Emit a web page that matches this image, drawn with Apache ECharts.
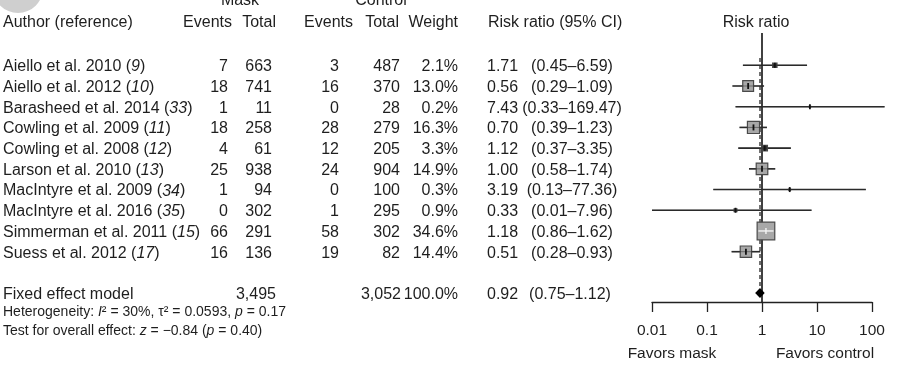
<!DOCTYPE html>
<html><head><meta charset="utf-8">
<script src="https://cdn.jsdelivr.net/npm/echarts@6/dist/echarts.min.js"></script>
<style>html,body{margin:0;padding:0;background:#fff}#c{width:911px;height:383px}</style>
</head><body><div id="c"></div>
<script>
// ---- data ----
const studies = ['Aiello et al. 2010', 'Aiello et al. 2012', 'Barasheed et al. 2014', 'Cowling et al. 2009', 'Cowling et al. 2008', 'Larson et al. 2010', 'MacIntyre et al. 2009', 'MacIntyre et al. 2016', 'Simmerman et al. 2011', 'Suess et al. 2012'];
const refs = ['9', '10', '33', '11', '12', '13', '34', '35', '15', '17'];
const maskEvents = [7, 18, 1, 18, 4, 25, 1, 0, 66, 16];
const maskTotal = [663, 741, 11, 258, 61, 938, 94, 302, 291, 136];
const ctrlEvents = [3, 16, 0, 28, 12, 24, 0, 1, 58, 19];
const ctrlTotal = [487, 370, 28, 279, 205, 904, 100, 295, 302, 82];
const weights = [2.1, 13.0, 0.2, 16.3, 3.3, 14.9, 0.3, 0.9, 34.6, 14.4];
const rr = [1.71, 0.56, 7.43, 0.70, 1.12, 1.00, 3.19, 0.33, 1.18, 0.51];
const lower = [0.45, 0.29, 0.33, 0.39, 0.37, 0.58, 0.13, 0.01, 0.86, 0.28];
const upper = [6.59, 1.09, 169.47, 1.23, 3.35, 1.74, 77.36, 7.96, 1.62, 0.93];
const pooledLabel = 'Fixed effect model';
const pooledMaskTotal = '3,495';
const pooledCtrlTotal = '3,052';
const pooledWeight = 100.0;
const pooledRR = 0.92;
const pooledLower = 0.75;
const pooledUpper = 1.12;
const heterogeneity = { I2: '30%', tau2: '0.0593', p: '0.17' };
const overall = { z: '\u22120.84', p: '0.40' };
const xTicks = [0.01, 0.1, 1, 10, 100];

// ---- style / layout ----
const FONT = '"Liberation Sans", Arial, sans-serif';
const TXT = '#1e1e1e';
const FS = 16;
const pooledRow = studies.length + 1;
const yMin = -1.56, yMax = 11.43;
const textDy = 1.5;
const sizeK = 3.0;
const col = { author: 3, maskEv: 228, maskTot: 272, ctrlEv: 339, ctrlTot: 400, weight: 458, rr: 487, ci: 572 };

function t(x, y, text, align, extra) {
  return Object.assign({ type: 'text', x: x, y: y, silent: true,
    style: Object.assign({ text: text, fill: TXT, fontSize: FS, fontFamily: FONT, align: align || 'left', verticalAlign: 'middle' }, extra || {}) });
}
const italicRich = (fs) => ({ i: { fontStyle: 'italic', fontSize: fs, fontFamily: FONT, fill: TXT }, n: { fontSize: fs, fontFamily: FONT, fill: TXT } });
const ci = (lo, hi) => '(' + lo.toFixed(2) + '\u2013' + hi.toFixed(2) + ')';

const tableData = studies.map((s, i) => [1, i]);
const forestData = studies.map((s, i) => [rr[i], i, lower[i], upper[i], weights[i]]);

const chart = echarts.init(document.getElementById('c'), null, { renderer: 'canvas' });
chart.setOption({
  animation: false,
  backgroundColor: '#fff',
  grid: { left: 652, width: 220, top: 33, bottom: 81, containLabel: false },
  xAxis: {
    type: 'log', logBase: 10, min: 0.01, max: 100, position: 'bottom',
    axisLine: { show: true, onZero: false, lineStyle: { color: '#222', width: 1.3 } },
    axisTick: { show: true, inside: false, length: 10, lineStyle: { color: '#222', width: 1.3 } },
    minorTick: { show: false }, splitLine: { show: false },
    axisLabel: { margin: 21, fontSize: 15.5, color: TXT, fontFamily: FONT,
      formatter: v => { const k = xTicks.find(tk => Math.abs(Math.log10(tk) - Math.log10(v)) < 1e-6); return k === undefined ? '' : String(k); } }
  },
  yAxis: { type: 'value', inverse: true, min: yMin, max: yMax, show: false },
  graphic: [
    { type: 'circle', shape: { cx: 18, cy: -12, r: 25 }, style: { fill: '#cfcfcf' }, silent: true },
    t(240, 1, 'Mask', 'center'),
    t(381, 1, 'Control', 'center'),
    t(3, 22.5, 'Author (reference)', 'left'),
    t(232, 22.5, 'Events', 'right'),
    t(276, 22.5, 'Total', 'right'),
    t(353, 22.5, 'Events', 'right'),
    t(399, 22.5, 'Total', 'right'),
    t(458, 22.5, 'Weight', 'right'),
    t(488, 22.5, 'Risk ratio (95% CI)', 'left'),
    t(756, 22.5, 'Risk ratio', 'center'),
    t(3, 312, 'Heterogeneity: {i|I}\u00b2 = ' + heterogeneity.I2 + ', \u03c4\u00b2 = ' + heterogeneity.tau2 + ', {i|p} = ' + heterogeneity.p, 'left', { fontSize: 14, rich: italicRich(14) }),
    t(3, 331, 'Test for overall effect: {i|z} = ' + overall.z + ' ({i|p} = ' + overall.p + ')', 'left', { fontSize: 14, rich: italicRich(14) }),
    t(672, 354, 'Favors mask', 'center', { fontSize: 15.5 }),
    t(825, 354, 'Favors control', 'center', { fontSize: 15.5 })
  ],
  series: [
    { // no-effect line
      type: 'line', data: [[1, yMin], [1, yMax]], symbol: 'none', silent: true, z: 1,
      lineStyle: { color: '#111', width: 1.6 }
    },
    { // pooled estimate dashed line
      type: 'line', data: [[pooledRR, -0.35], [pooledRR, pooledRow - 0.25]], symbol: 'none', silent: true, z: 1,
      lineStyle: { color: '#333', width: 1.4, type: [4, 3] }
    },
    { // study CIs and squares
      type: 'custom', z: 3, clip: false, silent: true,
      data: forestData,
      encode: { x: 0, y: 1 },
      renderItem: (params, api) => {
        const i = api.value(1);
        const est = api.coord([api.value(0), i]);
        const lo = api.coord([api.value(2), i]);
        const hi = api.coord([api.value(3), i]);
        const s = sizeK * Math.sqrt(api.value(4));
        const y = est[1];
        const inside = lo[0] >= est[0] - s / 2 && hi[0] <= est[0] + s / 2;
        const ch = [
          { type: 'line', shape: { x1: lo[0], y1: y, x2: hi[0], y2: y }, style: { stroke: '#2b2b2b', lineWidth: 1.6 } },
          { type: 'rect', shape: { x: est[0] - s / 2, y: y - s / 2, width: s, height: s }, style: { fill: s < 6 ? '#333' : '#a8a8a8', stroke: '#4a4a4a', lineWidth: 1.2 } }
        ];
        const th = Math.max(2.5, Math.min(3, s / 2));
        if (inside) {
          ch.push({ type: 'line', shape: { x1: lo[0], y1: y, x2: hi[0], y2: y }, style: { stroke: '#f4f4f4', lineWidth: 1.4 } });
          ch.push({ type: 'line', shape: { x1: est[0], y1: y - 3, x2: est[0], y2: y + 3 }, style: { stroke: '#f4f4f4', lineWidth: 1.4 } });
        } else {
          ch.push({ type: 'line', shape: { x1: lo[0], y1: y, x2: hi[0], y2: y }, style: { stroke: '#2b2b2b', lineWidth: 1.0, opacity: 0.5 } });
          ch.push({ type: 'line', shape: { x1: est[0], y1: y - th, x2: est[0], y2: y + th }, style: { stroke: '#111', lineWidth: 1.8 } });
        }
        return { type: 'group', children: ch };
      }
    },
    { // pooled diamond
      type: 'custom', z: 3, clip: false, silent: true,
      data: [[pooledRR, pooledRow, pooledLower, pooledUpper]],
      encode: { x: 0, y: 1 },
      renderItem: (params, api) => {
        const r = api.value(1);
        const est = api.coord([api.value(0), r]);
        const lo = api.coord([api.value(2), r]);
        const hi = api.coord([api.value(3), r]);
        const h = 5;
        return { type: 'polygon', shape: { points: [[lo[0], est[1]], [est[0], est[1] - h], [hi[0], est[1]], [est[0], est[1] + h]] }, style: { fill: '#000' } };
      }
    },
    { // study table text
      type: 'custom', z: 4, clip: false, silent: true,
      data: tableData,
      encode: { x: 0, y: 1 },
      renderItem: (params, api) => {
        const i = params.dataIndex;
        const y = api.coord([1, api.value(1)])[1] + textDy;
        return { type: 'group', children: [
          t(col.author, y, studies[i] + ' ({i|' + refs[i] + '})', 'left', { rich: italicRich(FS) }),
          t(col.maskEv, y, String(maskEvents[i]), 'right'),
          t(col.maskTot, y, String(maskTotal[i]), 'right'),
          t(col.ctrlEv, y, String(ctrlEvents[i]), 'right'),
          t(col.ctrlTot, y, String(ctrlTotal[i]), 'right'),
          t(col.weight, y, weights[i].toFixed(1) + '%', 'right'),
          t(col.rr, y, rr[i].toFixed(2), 'left'),
          t(col.ci, y, ci(lower[i], upper[i]), 'center')
        ] };
      }
    },
    { // pooled row text
      type: 'custom', z: 4, clip: false, silent: true,
      data: [[1, pooledRow]],
      encode: { x: 0, y: 1 },
      renderItem: (params, api) => {
        const y = api.coord([1, api.value(1)])[1] + textDy;
        return { type: 'group', children: [
          t(col.author, y, pooledLabel, 'left'),
          t(col.maskTot + 4, y, pooledMaskTotal, 'right'),
          t(col.ctrlTot + 1, y, pooledCtrlTotal, 'right'),
          t(col.weight, y, pooledWeight.toFixed(1) + '%', 'right'),
          t(col.rr, y, pooledRR.toFixed(2), 'left'),
          t(col.ci - 2, y, ci(pooledLower, pooledUpper), 'center')
        ] };
      }
    }
  ]
});
</script></body></html>
